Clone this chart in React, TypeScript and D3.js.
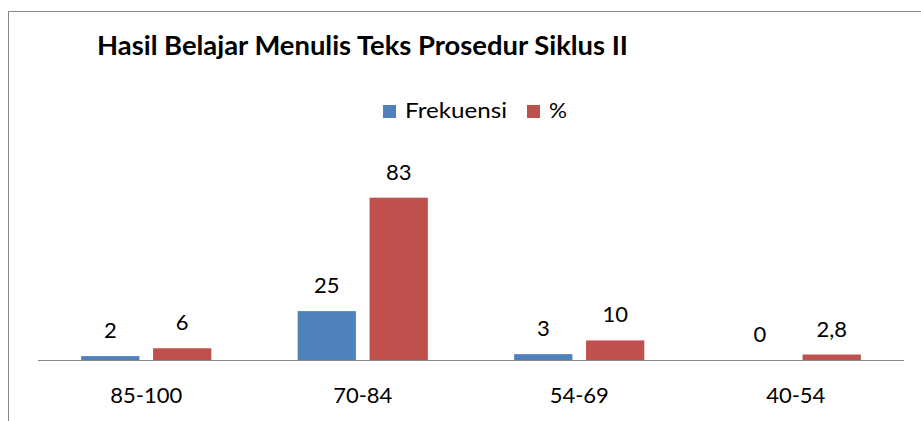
import { useEffect, useRef } from "react";
import * as d3 from "d3";

const categories = ["85-100", "70-84", "54-69", "40-54"];
const seriesNames = ["Frekuensi", "%"];
const frekuensi = [2, 25, 3, 0];
const persen = [6, 83, 10, 2.8];
const persenLabels = ["6", "83", "10", "2,8"];

export default function App() {
    const svgRef = useRef<SVGSVGElement>(null);

    useEffect(() => {
        const width = 921;
        const height = 421;
        const svg = d3.select(svgRef.current);
        svg.selectAll("*").remove();

        const font = "Lato, 'Open Sans', sans-serif";
        const colors: { [k: string]: string } = { Frekuensi: "#4F81BD", "%": "#C0504D" };

        // chart frame (continues past the right and bottom edges)
        svg.append("rect")
            .attr("x", 8.5)
            .attr("y", 11.5)
            .attr("width", 1000)
            .attr("height", 1000)
            .attr("fill", "white")
            .attr("stroke", "#868686")
            .attr("stroke-width", 1);

        svg.append("text")
            .attr("x", 97)
            .attr("y", 55)
            .attr("textLength", 531)
            .attr("lengthAdjust", "spacingAndGlyphs")
            .style("font-family", font)
            .style("font-weight", "bold")
            .style("font-size", "26px")
            .attr("fill", "#000")
            .text("Hasil Belajar Menulis Teks Prosedur Siklus II");

        // legend
        const legend = svg.append("g");
        const legendX = [383, 527];
        const legendLen = [102, 18];
        seriesNames.forEach((s, i) => {
            legend.append("rect")
                .attr("x", legendX[i])
                .attr("y", 105)
                .attr("width", 13)
                .attr("height", 13)
                .attr("fill", colors[s]);
            legend.append("text")
                .attr("x", legendX[i] + 22)
                .attr("y", 118)
                .attr("textLength", legendLen[i])
                .attr("lengthAdjust", "spacingAndGlyphs")
                .style("font-family", font)
                .style("font-size", "21px")
                .text(s);
        });

        const x = d3.scaleBand().domain(categories).range([38, 904]).padding(0);
        const xSub = d3
            .scaleBand()
            .domain(seriesNames)
            .range([0, x.bandwidth()])
            .paddingInner(0.19)
            .paddingOuter(0.6);
        const y = d3.scaleLinear().domain([0, 90]).range([360, 184]);

        const rows = categories.map((c, i) => ({
            cat: c,
            vals: [
                { key: "Frekuensi", value: frekuensi[i], label: String(frekuensi[i]) },
                { key: "%", value: persen[i], label: persenLabels[i] },
            ],
        }));

        const groups = svg
            .append("g")
            .selectAll("g")
            .data(rows)
            .enter()
            .append("g")
            .attr("transform", (d) => "translate(" + x(d.cat) + ",0)");

        groups
            .selectAll("rect")
            .data((d) => d.vals)
            .enter()
            .append("rect")
            .attr("x", (d) => xSub(d.key) || 0)
            .attr("y", (d) => y(d.value))
            .attr("width", xSub.bandwidth())
            .attr("height", (d) => y(0) - y(d.value))
            .attr("fill", (d) => colors[d.key]);

        groups
            .selectAll("text")
            .data((d) => d.vals)
            .enter()
            .append("text")
            .attr("x", (d) => (xSub(d.key) || 0) + xSub.bandwidth() / 2)
            .attr("y", (d) => y(d.value) - 18)
            .attr("text-anchor", "middle")
            .style("font-family", font)
            .style("font-size", "22px")
            .text((d) => d.label);

        // category axis
        const axis = svg
            .append("g")
            .attr("transform", "translate(0," + y(0) + ")")
            .call(d3.axisBottom(x).tickSize(0).tickPadding(0));
        axis.select(".domain").attr("stroke", "#868686").attr("d", "M38,0.5H904");
        axis.selectAll(".tick text")
            .attr("dy", 0)
            .attr("y", 43)
            .attr("fill", "#000")
            .style("font-family", font)
            .style("font-size", "22px");

        svg.attr("width", width).attr("height", height);
    }, []);

    return (
        <svg
            ref={svgRef}
            width={921}
            height={421}
            style={{ position: "absolute", left: 0, top: 0, background: "white" }}
        />
    );
}
